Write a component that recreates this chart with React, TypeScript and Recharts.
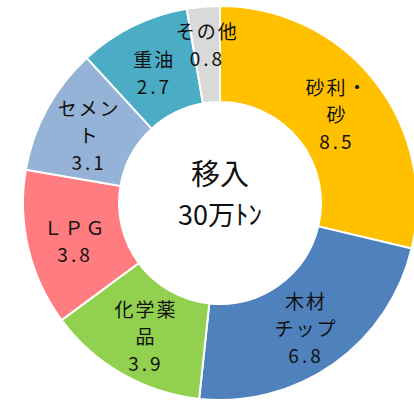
import React from "react";
import { PieChart, Pie, Cell } from "recharts";

const categories = ["砂利・\n砂", "木材\nチップ", "化学薬\n品", "ＬＰＧ", "セメン\nト", "重油", "その他"];
const values = [8.5, 6.8, 3.9, 3.8, 3.1, 2.7, 0.8];
const colors = ["#FFC000", "#4F81BD", "#92D050", "#FF7C80", "#95B3D7", "#4BACC6", "#D9D9D9"];

const data = categories.map((name, i) => ({ name, value: values[i] }));

const RAD = Math.PI / 180;
const FONT = "'Noto Sans CJK JP', 'Noto Sans', sans-serif";

const renderLabel = (props: any) => {
  const { cx, cy, midAngle, innerRadius, outerRadius, index } = props;
  const r = (innerRadius + outerRadius) / 2;
  const x = cx + r * Math.cos(-midAngle * RAD);
  let y = cy + r * Math.sin(-midAngle * RAD);
  const lines = [...categories[index].split("\n"), values[index].toFixed(1)];
  const lh = 27;
  // the small slice at the top has its label pushed up toward the rim
  if (index === categories.length - 1) y -= 14;
  y += 3 - ((lines.length - 1) * lh) / 2;
  return (
    <text x={x} y={y} textAnchor="middle" fill="#111" fontSize={19} fontFamily={FONT}>
      {lines.map((t, i) => (
        <tspan
          key={i}
          x={x}
          dy={i === 0 ? 0 : lh}
          dominantBaseline="central"
          letterSpacing={i === lines.length - 1 ? 3 : 2}
        >
          {t}
        </tspan>
      ))}
    </text>
  );
};

export default function App() {
  return (
    <div style={{ position: "absolute", left: 0, top: 0, background: "#fff" }}>
      <PieChart width={414} height={406} margin={{ top: 0, right: 0, bottom: 0, left: 0 }}>
        <Pie
          data={data}
          dataKey="value"
          cx={220}
          cy={203}
          innerRadius={101}
          outerRadius={197}
          startAngle={90}
          endAngle={-270}
          stroke="#fff"
          strokeWidth={2}
          labelLine={false}
          label={renderLabel}
          isAnimationActive={false}
        >
          {data.map((d, i) => (
            <Cell key={d.name} fill={colors[i]} />
          ))}
        </Pie>
        <text x={220} y={172} textAnchor="middle" dominantBaseline="central" fontSize={29} fontFamily={FONT} fill="#111">
          移入
        </text>
        <text x={220} y={213} textAnchor="middle" dominantBaseline="central" fontSize={27} fontFamily={FONT} fill="#111">
          30万ﾄﾝ
        </text>
      </PieChart>
    </div>
  );
}
